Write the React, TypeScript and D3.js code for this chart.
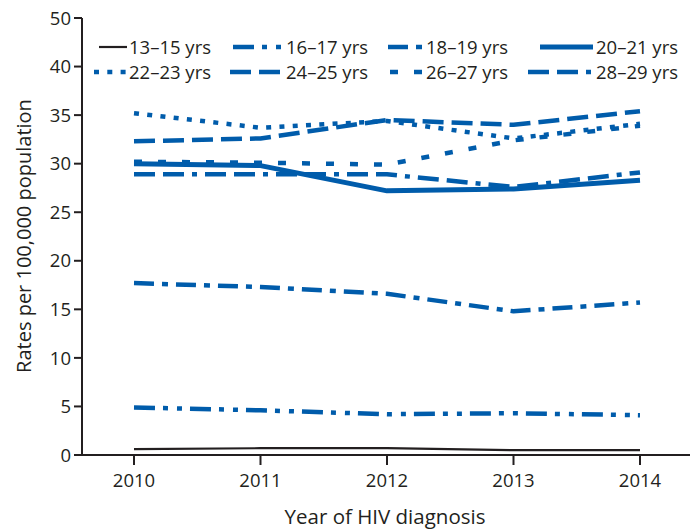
import React from "react";
import * as d3 from "d3";

const years = [2010, 2011, 2012, 2013, 2014];
const s13_15 = [0.6, 0.7, 0.7, 0.5, 0.5];
const s16_17 = [4.9, 4.6, 4.2, 4.3, 4.1];
const s18_19 = [17.7, 17.3, 16.6, 14.8, 15.7];
const s20_21 = [30.0, 29.8, 27.2, 27.4, 28.3];
const s22_23 = [35.2, 33.7, 34.4, 32.6, 34.1];
const s24_25 = [32.3, 32.6, 34.5, 34.0, 35.4];
const s26_27 = [30.2, 30.1, 29.9, 32.4, 33.9];
const s28_29 = [28.9, 28.9, 28.9, 27.6, 29.1];
const seriesNames = ["13–15 yrs", "16–17 yrs", "18–19 yrs", "20–21 yrs", "22–23 yrs", "24–25 yrs", "26–27 yrs", "28–29 yrs"];
const yTicks = [0, 5, 10, 15, 20, 25, 30, 35, 40, 45];
const yTickLabels = ["0", "5", "10", "15", "20", "25", "30", "35", "40", "50"];

const BLUE = "#005cab";
const INK = "#231f20";
const FONT = "'Open Sans', sans-serif";

const styles = [
  { color: INK, width: 2.2, dash: "" },
  { color: BLUE, width: 4.5, dash: "21 8 5 9 5 8" },
  { color: BLUE, width: 4.5, dash: "20 8 6 8" },
  { color: BLUE, width: 5, dash: "" },
  { color: BLUE, width: 4.5, dash: "5 8.3" },
  { color: BLUE, width: 4.5, dash: "21 8" },
  { color: BLUE, width: 4.5, dash: "8 16" },
  { color: BLUE, width: 4.5, dash: "21 8 21 8 5 8" },
];

const legendPos = [
  { x1: 99, x2: 127, tx: 129, y: 47 },
  { x1: 233, x2: 283, tx: 286, y: 47 },
  { x1: 388, x2: 423, tx: 426, y: 47 },
  { x1: 540, x2: 593, tx: 596, y: 47 },
  { x1: 94, x2: 127, tx: 129, y: 72 },
  { x1: 230, x2: 283, tx: 286, y: 72 },
  { x1: 390, x2: 423, tx: 426, y: 72 },
  { x1: 528, x2: 591, tx: 596, y: 72 },
];

export default function App() {
  const W = 695, H = 529;
  const x = d3.scaleLinear().domain([2010, 2014]).range([134, 640]);
  const y = d3.scaleLinear().domain([0, 45]).range([455, 18]);
  const all = [s13_15, s16_17, s18_19, s20_21, s22_23, s24_25, s26_27, s28_29];
  const line = d3
    .line<number>()
    .x((_, i) => x(years[i]))
    .y((d) => y(d));
  const axisLeft = 82;
  return (
    <svg width={W} height={H} style={{ position: "absolute", left: 0, top: 0, background: "#fff" }}>
      <rect width={W} height={H} fill="#fff" />
      {/* y axis */}
      <line x1={axisLeft} x2={axisLeft} y1={y(45)} y2={y(0) + 1} stroke={INK} strokeWidth={2} />
      {yTicks.map((t, i) => (
        <g key={t}>
          <line x1={axisLeft - 8} x2={axisLeft} y1={y(t)} y2={y(t)} stroke={INK} strokeWidth={2} />
          <text x={axisLeft - 11} y={y(t)} dy="0.36em" textAnchor="end" fontFamily={FONT} fontSize={18.5} fill={INK}>
            {yTickLabels[i]}
          </text>
        </g>
      ))}
      {/* x axis */}
      <line x1={axisLeft - 1} x2={690} y1={y(0)} y2={y(0)} stroke={INK} strokeWidth={2} />
      {years.map((yr) => (
        <g key={yr}>
          <line x1={x(yr)} x2={x(yr)} y1={y(0)} y2={y(0) + 10} stroke={INK} strokeWidth={2} />
          <text x={x(yr)} y={487} textAnchor="middle" fontFamily={FONT} fontSize={18.5} fill={INK}>
            {yr}
          </text>
        </g>
      ))}
      <text x={385} y={524} textAnchor="middle" fontFamily={FONT} fontSize={20.5} fill={INK}>
        Year of HIV diagnosis
      </text>
      <text
        transform={`translate(31, ${236}) rotate(-90)`}
        textAnchor="middle"
        fontFamily={FONT}
        fontSize={20}
        fill={INK}
      >
        Rates per 100,000 population
      </text>
      {/* lines */}
      {all.map((s, i) => (
        <path
          key={i}
          d={line(s) || ""}
          fill="none"
          stroke={styles[i].color}
          strokeWidth={styles[i].width}
          strokeDasharray={styles[i].dash || undefined}
          strokeLinejoin="round"
        />
      ))}
      {/* legend */}
      {seriesNames.map((n, i) => (
        <g key={n}>
          <line
            x1={legendPos[i].x1}
            x2={legendPos[i].x2}
            y1={legendPos[i].y}
            y2={legendPos[i].y}
            stroke={styles[i].color}
            strokeWidth={styles[i].width}
            strokeDasharray={styles[i].dash || undefined}
          />
          <text x={legendPos[i].tx} y={legendPos[i].y} dy="0.36em" fontFamily={FONT} fontSize={18.5} fill={INK}>
            {n}
          </text>
        </g>
      ))}
    </svg>
  );
}
